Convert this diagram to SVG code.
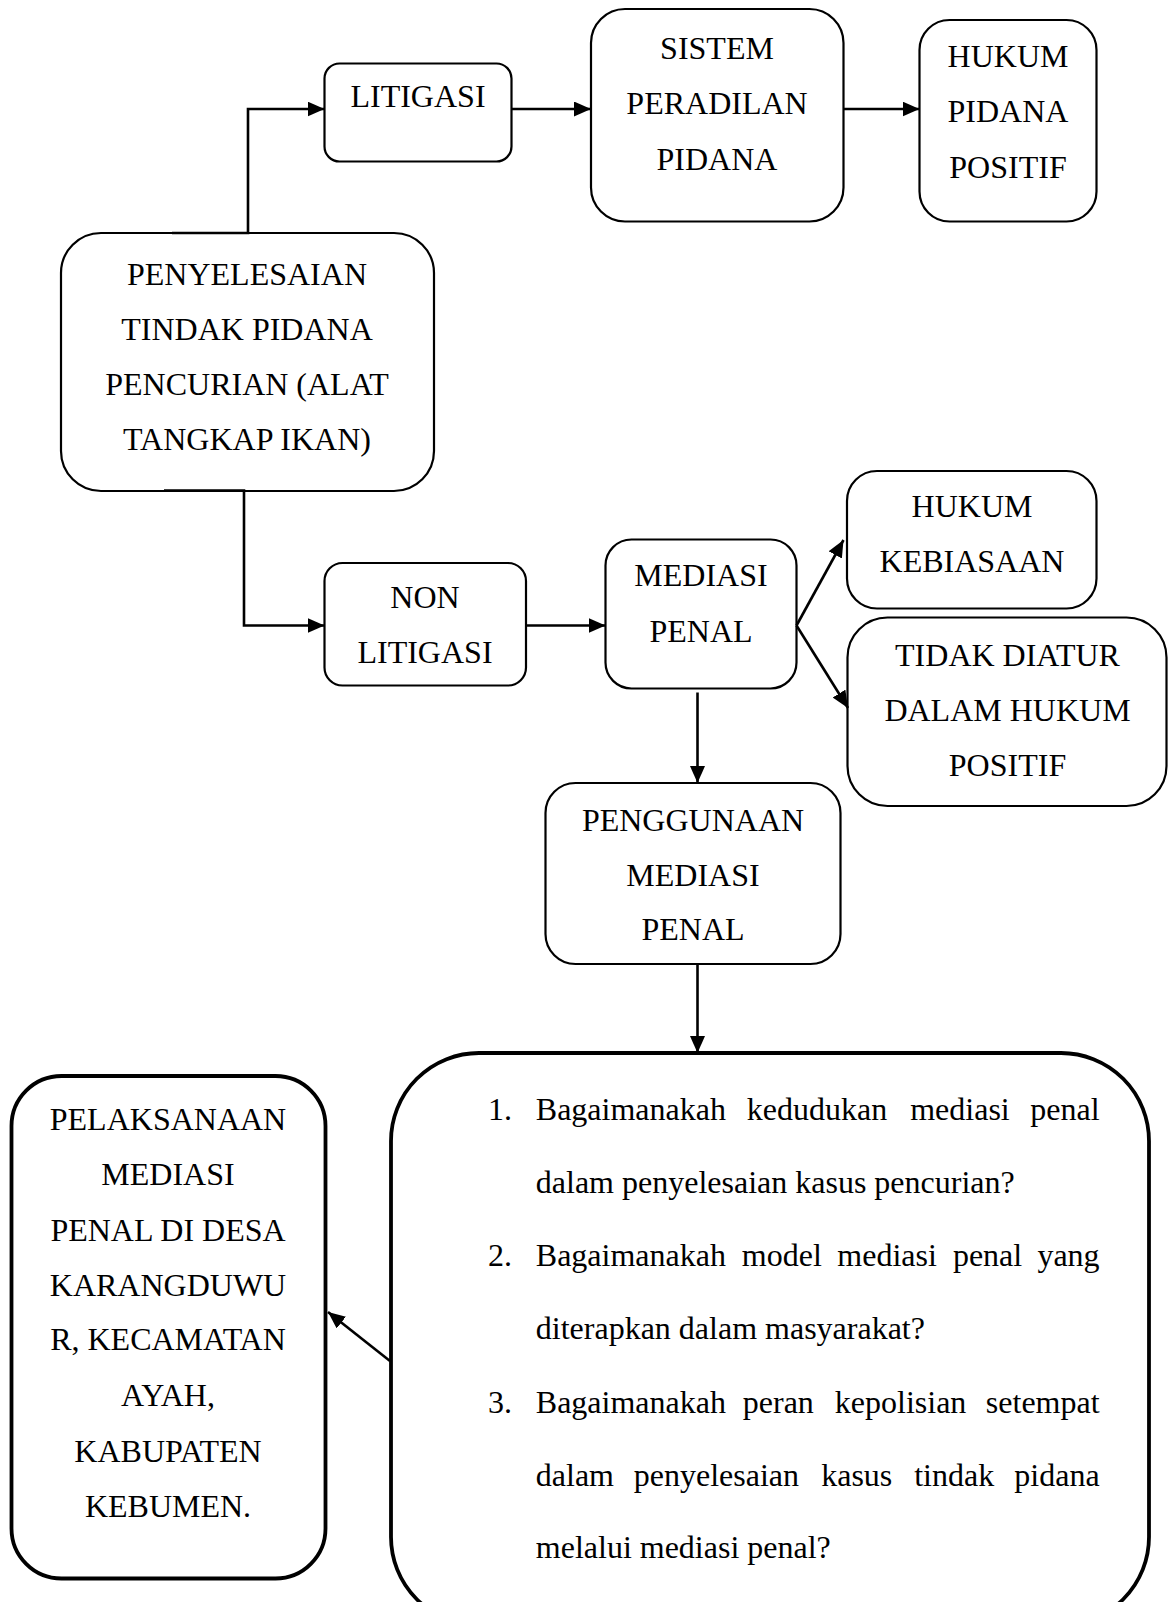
<svg xmlns="http://www.w3.org/2000/svg" width="1168" height="1602" viewBox="0 0 1168 1602">
<style>
.box{fill:#fff;stroke:#000;stroke-width:2.2}
.bold{fill:#fff;stroke:#000;stroke-width:3.8}
.t{font-family:"Liberation Serif","Times New Roman",serif;font-size:32px;fill:#000}
.c{text-anchor:middle}
.e{text-anchor:end}
.con{fill:none;stroke:#000;stroke-width:2.6}
</style>
<defs>
<marker id="ah" markerUnits="userSpaceOnUse" markerWidth="18" markerHeight="16" refX="17" refY="7.5" orient="auto">
<path d="M0,0 L17,7.5 L0,15 z" fill="#000"/>
</marker>
</defs>
<rect width="1168" height="1602" fill="#fff"/>
<g id="n-main">
<rect class="box" x="61" y="233" width="373" height="258" rx="40"/>
<text class="t c" x="247" y="285">PENYELESAIAN</text>
<text class="t c" x="247" y="340">TINDAK PIDANA</text>
<text class="t c" x="247" y="395">PENCURIAN (ALAT</text>
<text class="t c" x="247" y="450">TANGKAP IKAN)</text>
</g>
<g id="n-litigasi">
<rect class="box" x="324.5" y="63.5" width="187" height="98" rx="15"/>
<text class="t c" x="418" y="107">LITIGASI</text>
</g>
<g id="n-sistem">
<rect class="box" x="591" y="9" width="252.5" height="212.5" rx="34"/>
<text class="t c" x="717" y="59">SISTEM</text>
<text class="t c" x="717" y="114">PERADILAN</text>
<text class="t c" x="717" y="170">PIDANA</text>
</g>
<g id="n-hukumpidana">
<rect class="box" x="919.5" y="20" width="177" height="201.5" rx="30"/>
<text class="t c" x="1008" y="67">HUKUM</text>
<text class="t c" x="1008" y="122">PIDANA</text>
<text class="t c" x="1008" y="178">POSITIF</text>
</g>
<g id="n-nonlitigasi">
<rect class="box" x="324.5" y="563" width="201.5" height="122.5" rx="18"/>
<text class="t c" x="425" y="608">NON</text>
<text class="t c" x="425" y="663">LITIGASI</text>
</g>
<g id="n-mediasi">
<rect class="box" x="605.5" y="539.5" width="191" height="149" rx="26"/>
<text class="t c" x="701" y="586">MEDIASI</text>
<text class="t c" x="701" y="642">PENAL</text>
</g>
<g id="n-kebiasaan">
<rect class="box" x="847" y="471" width="249.5" height="137.5" rx="30"/>
<text class="t c" x="972" y="517">HUKUM</text>
<text class="t c" x="972" y="572">KEBIASAAN</text>
</g>
<g id="n-tidakdiatur">
<rect class="box" x="847.5" y="617.5" width="319" height="188.5" rx="40"/>
<text class="t c" x="1007.5" y="666">TIDAK DIATUR</text>
<text class="t c" x="1007.5" y="721">DALAM HUKUM</text>
<text class="t c" x="1007.5" y="776">POSITIF</text>
</g>
<g id="n-penggunaan">
<rect class="box" x="545.5" y="783" width="295" height="181" rx="30"/>
<text class="t c" x="693" y="831">PENGGUNAAN</text>
<text class="t c" x="693" y="886">MEDIASI</text>
<text class="t c" x="693" y="940">PENAL</text>
</g>
<g id="n-pelaksanaan">
<rect class="bold" x="11.5" y="1076" width="314" height="502.5" rx="50"/>
<text class="t c" x="168" y="1130">PELAKSANAAN</text>
<text class="t c" x="168" y="1185">MEDIASI</text>
<text class="t c" x="168" y="1241">PENAL DI DESA</text>
<text class="t c" x="168" y="1296">KARANGDUWU</text>
<text class="t c" x="168" y="1350">R, KECAMATAN</text>
<text class="t c" x="168" y="1406">AYAH,</text>
<text class="t c" x="168" y="1462">KABUPATEN</text>
<text class="t c" x="168" y="1517">KEBUMEN.</text>
</g>
<g id="n-questions">
<rect class="bold" x="391" y="1053" width="758" height="572" rx="88"/>
<text class="t" x="488" y="1119.5">1.</text>
<text class="t" x="535.8" y="1119.5">Bagaimanakah</text>
<text class="t" x="746.8" y="1119.5">kedudukan</text>
<text class="t" x="910.2" y="1119.5">mediasi</text>
<text class="t e" x="1099.6" y="1119.5">penal</text>
<text class="t" x="535.8" y="1192.5">dalam penyelesaian kasus pencurian?</text>
<text class="t" x="488" y="1266">2.</text>
<text class="t" x="535.8" y="1266">Bagaimanakah</text>
<text class="t" x="741.8" y="1266">model</text>
<text class="t" x="837.3" y="1266">mediasi</text>
<text class="t" x="952.9" y="1266">penal</text>
<text class="t e" x="1099.6" y="1266">yang</text>
<text class="t" x="535.8" y="1338.5">diterapkan dalam masyarakat?</text>
<text class="t" x="488" y="1412.5">3.</text>
<text class="t" x="535.8" y="1412.5">Bagaimanakah</text>
<text class="t" x="742.8" y="1412.5">peran</text>
<text class="t" x="834.8" y="1412.5">kepolisian</text>
<text class="t e" x="1099.6" y="1412.5">setempat</text>
<text class="t" x="535.8" y="1486">dalam</text>
<text class="t" x="633.8" y="1486">penyelesaian</text>
<text class="t" x="821.2" y="1486">kasus</text>
<text class="t" x="914.2" y="1486">tindak</text>
<text class="t e" x="1099.6" y="1486">pidana</text>
<text class="t" x="535.8" y="1558">melalui mediasi penal?</text>
</g>
<g id="connectors">
<path class="con" d="M172,233 H248 V109 H324.5" marker-end="url(#ah)"/>
<path class="con" d="M511.5,109 H591" marker-end="url(#ah)"/>
<path class="con" d="M843.5,109 H919.5" marker-end="url(#ah)"/>
<path class="con" d="M164,490.5 H244 V625.5 H324.5" marker-end="url(#ah)"/>
<path class="con" d="M526,625.5 H605.5" marker-end="url(#ah)"/>
<path class="con" d="M796.5,625.5 L843.5,540" marker-end="url(#ah)"/>
<path class="con" d="M796.5,625.5 L848,708" marker-end="url(#ah)"/>
<path class="con" d="M697.5,692.5 V783" marker-end="url(#ah)"/>
<path class="con" d="M697.5,964 V1053" marker-end="url(#ah)"/>
<path class="con" d="M390,1361 L328,1312" marker-end="url(#ah)"/>
</g>
</svg>
